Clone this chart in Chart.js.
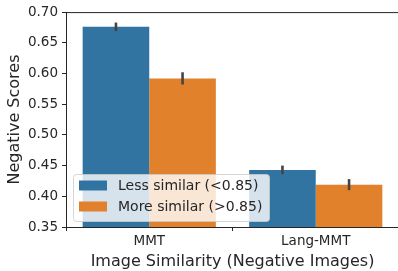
<!DOCTYPE html>
<html>
<head>
  <meta charset="utf-8">
  <title>Negative Scores by Image Similarity</title>
  <script src="https://cdn.jsdelivr.net/npm/chart.js@4.4.0/dist/chart.umd.min.js"></script>
  <style>
    html, body { margin: 0; padding: 0; background: #fff; overflow: hidden; }
    #wrap { width: 400px; height: 271px; }
  </style>
</head>
<body>
<div id="wrap"><canvas id="myChart" width="400" height="271"></canvas></div>
<script>
  // data
  var categories = ['MMT', 'Lang-MMT'];
  var seriesNames = ['Less similar (<0.85)', 'More similar (>0.85)'];
  var lessSimilar = [0.676, 0.443];
  var moreSimilar = [0.592, 0.419];
  var lessErr = [0.007, 0.007];
  var moreErr = [0.010, 0.009];
  var yTicks = [0.35, 0.40, 0.45, 0.50, 0.55, 0.60, 0.65, 0.70];
  var yTitle = 'Negative Scores';
  var xTitle = 'Image Similarity (Negative Images)';

  var font = 'DejaVu Sans';
  var textColor = '#262626';
  var blue = '#3274a1';
  var orange = '#e1812c';

  // error bars on top of each bar
  var errorBars = {
    id: 'errorBars',
    afterDatasetsDraw: function(chart) {
      var ctx = chart.ctx;
      var y = chart.scales.y;
      ctx.save();
      ctx.strokeStyle = '#444';
      ctx.lineWidth = 2.6;
      chart.data.datasets.forEach(function(ds, i) {
        var meta = chart.getDatasetMeta(i);
        meta.data.forEach(function(bar, j) {
          var v = ds.data[j], e = ds.errors[j];
          ctx.beginPath();
          ctx.moveTo(bar.x, y.getPixelForValue(v - e));
          ctx.lineTo(bar.x, y.getPixelForValue(v + e));
          ctx.stroke();
        });
      });
      ctx.restore();
    }
  };

  // top spine, y label and the legend box inside the axes
  var frameAndLegend = {
    id: 'frameAndLegend',
    afterDraw: function(chart) {
      var ctx = chart.ctx;
      var a = chart.chartArea;
      ctx.save();
      ctx.strokeStyle = '#262626';
      ctx.lineWidth = 1;
      ctx.beginPath();
      ctx.moveTo(a.left, a.top + 0.5);
      ctx.lineTo(a.right, a.top + 0.5);
      ctx.stroke();

      // y axis label
      ctx.save();
      ctx.translate(15, (a.top + a.bottom) / 2);
      ctx.rotate(-Math.PI / 2);
      ctx.font = '16px "' + font + '"';
      ctx.fillStyle = textColor;
      ctx.textAlign = 'center';
      ctx.textBaseline = 'middle';
      ctx.fillText(yTitle, 0, 0);
      ctx.restore();

      var x0 = a.left + 7.5, y0 = a.bottom - 52.5, w = 196, h = 47, r = 3;
      ctx.beginPath();
      ctx.roundRect(x0, y0, w, h, r);
      ctx.fillStyle = 'rgba(255,255,255,0.8)';
      ctx.fill();
      ctx.strokeStyle = 'rgba(204,204,204,0.8)';
      ctx.stroke();

      ctx.font = '14px "' + font + '"';
      ctx.textBaseline = 'middle';
      chart.data.datasets.forEach(function(ds, i) {
        var cy = y0 + 11 + i * 21;
        ctx.fillStyle = ds.backgroundColor;
        ctx.fillRect(x0 + 5.5, cy - 5, 28, 10);
        ctx.fillStyle = textColor;
        ctx.fillText(ds.label, x0 + 44.5, cy + 1);
      });
      ctx.restore();
    }
  };

  var ctx = document.getElementById('myChart').getContext('2d');
  var chart = new Chart(ctx, {
    type: 'bar',
    data: {
      labels: categories,
      datasets: [{
        label: seriesNames[0],
        data: lessSimilar,
        errors: lessErr,
        backgroundColor: blue,
        borderWidth: 0
      }, {
        label: seriesNames[1],
        data: moreSimilar,
        errors: moreErr,
        backgroundColor: orange,
        borderWidth: 0
      }]
    },
    options: {
      responsive: false,
      animation: false,
      layout: { padding: { top: 9, right: 1, left: 0, bottom: 0 } },
      datasets: { bar: { barPercentage: 1.0, categoryPercentage: 0.8 } },
      scales: {
        x: {
          grid: { drawOnChartArea: false, tickLength: 4, color: '#262626' },
          border: { color: '#262626', width: 1 },
          ticks: { color: textColor, font: { family: font, size: 13.5 }, padding: 2 },
          title: {
            display: true,
            text: xTitle,
            color: textColor,
            font: { family: font, size: 16 },
            padding: { top: 0, bottom: 0 }
          },
          afterFit: function(s) { s.height = 44; }
        },
        y: {
          min: 0.35,
          max: 0.70,
          afterBuildTicks: function(s) {
            s.ticks = yTicks.map(function(v) { return { value: v }; });
          },
          grid: { drawOnChartArea: false, tickLength: 4, color: '#262626' },
          border: { color: '#262626', width: 1 },
          ticks: {
            color: textColor,
            font: { family: font, size: 13.5 },
            padding: 4,
            callback: function(v) { return Number(v).toFixed(2); }
          },
          afterFit: function(s) { s.width = 66; }
        }
      },
      plugins: {
        legend: { display: false },
        tooltip: { enabled: false }
      }
    },
    plugins: [errorBars, frameAndLegend]
  });
</script>
</body>
</html>
